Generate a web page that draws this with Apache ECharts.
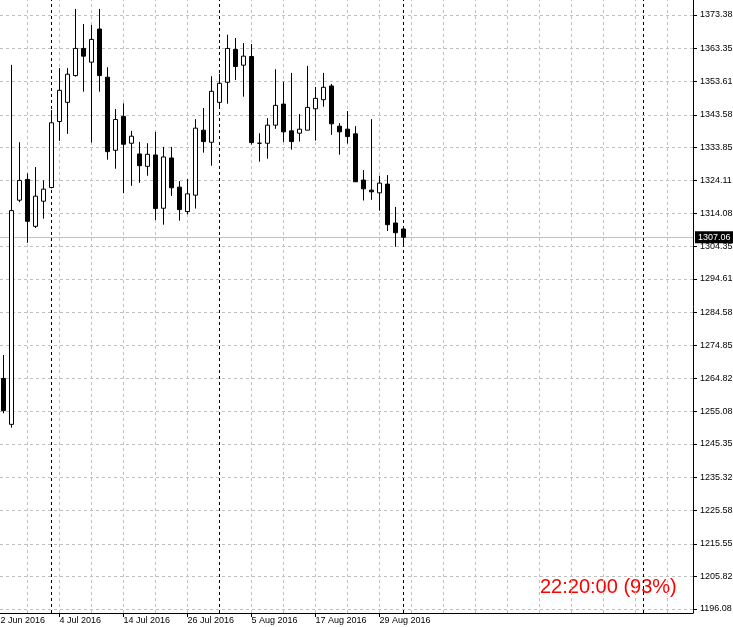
<!DOCTYPE html>
<html><head><meta charset="utf-8">
<script src="https://cdn.jsdelivr.net/npm/echarts@6/dist/echarts.min.js"></script>
<style>html,body{margin:0;padding:0;background:#fff}#c{width:733px;height:627px}</style>
</head><body><div id="c"></div>
<script>
const dates = ['2016-06-23','2016-06-24','2016-06-27','2016-06-28','2016-06-29','2016-06-30','2016-07-01',
  '2016-07-04','2016-07-05','2016-07-06','2016-07-07','2016-07-08','2016-07-11','2016-07-12','2016-07-13','2016-07-14','2016-07-15',
  '2016-07-18','2016-07-19','2016-07-20','2016-07-21','2016-07-22','2016-07-25','2016-07-26','2016-07-27','2016-07-28','2016-07-29',
  '2016-08-01','2016-08-02','2016-08-03','2016-08-04','2016-08-05','2016-08-08','2016-08-09','2016-08-10','2016-08-11','2016-08-12',
  '2016-08-15','2016-08-16','2016-08-17','2016-08-18','2016-08-19','2016-08-22','2016-08-23','2016-08-24','2016-08-25','2016-08-26',
  '2016-08-29','2016-08-30','2016-08-31','2016-09-01'];
const open  = [1264.9,1251.2,1318.1,1324.3,1310.3,1317.8,1321.9,1341.6,1347.3,1355.3,1363.4,1359.3,1369.2,1354.8,1333.0,1343.1,1335.1,
  1331.9,1328.2,1331.6,1315.7,1330.7,1322.0,1314.7,1319.6,1339.0,1335.4,1347.3,1353.3,1363.1,1358.4,1361.0,1335.1,1335.1,1340.5,1346.8,
  1338.8,1338.1,1339.0,1345.4,1348.1,1352.2,1340.2,1339.3,1337.9,1324.1,1321.1,1320.3,1322.9,1311.3,1309.5];
const high  = [1271.9,1358.5,1335.4,1326.1,1328.0,1324.0,1345.0,1357.5,1357.5,1375.2,1370.7,1370.4,1375.2,1357.8,1345.3,1347.0,1338.8,
  1335.5,1335.1,1338.5,1334.0,1334.0,1323.8,1324.4,1342.3,1345.6,1355.1,1355.8,1367.5,1366.5,1365.0,1364.7,1338.1,1342.6,1357.2,1353.5,
  1356.1,1343.8,1358.2,1351.9,1356.1,1352.8,1341.1,1344.7,1340.2,1327.1,1342.3,1325.4,1325.6,1316.1,1309.5];
const low   = [1254.5,1250.2,1317.5,1305.4,1309.8,1312.6,1321.6,1335.8,1337.9,1355.0,1350.5,1335.3,1350.5,1330.2,1327.5,1320.2,1322.4,
  1323.3,1325.4,1312.2,1310.8,1319.4,1312.0,1313.9,1315.6,1332.3,1328.4,1346.0,1346.9,1354.0,1349.0,1334.7,1329.6,1330.5,1339.4,1335.5,
  1333.2,1335.6,1339.0,1335.9,1346.0,1337.6,1331.7,1335.0,1323.6,1318.0,1318.2,1315.0,1308.9,1304.2,1304.7];
const close = [1255.3,1315.0,1324.0,1311.8,1319.3,1321.4,1341.2,1350.9,1355.7,1363.4,1361.1,1366.1,1355.3,1332.6,1342.2,1334.8,1337.2,
  1328.4,1331.8,1315.6,1331.0,1321.8,1315.3,1320.0,1339.6,1335.6,1350.6,1353.0,1363.4,1358.0,1361.1,1335.3,1335.1,1340.5,1346.4,1338.5,
  1335.6,1339.3,1345.8,1348.5,1351.8,1340.9,1338.5,1337.1,1323.6,1321.5,1320.6,1323.2,1310.8,1308.4,1307.06];

const yTicks = [1373.38,1363.35,1353.61,1343.58,1333.85,1324.11,1314.08,1304.35,1294.61,1284.58,
  1274.85,1264.82,1255.08,1245.35,1235.32,1225.58,1215.55,1205.82,1196.08];
const xTickIdx = [-1,7,15,23,31,39,47];
const xTickLabels = ['22 Jun 2016','4 Jul 2016','14 Jul 2016','26 Jul 2016','5 Aug 2016','17 Aug 2016','29 Aug 2016'];
const gridIdx = [3,7,11,15,19,23,27,31,35,39,43,47,51,55,59,63,67,71,75,79,83];
const periodIdx = [6,27,50,80];
const lastPrice = 1307.06;
const timerText = '22:20:00 (93%)';

const FONT = '"Liberation Sans", Arial, sans-serif';
const xMin = -0.4375, xMax = 86.1875;
const yMin = 1194.887, yMax = 1377.857;

const candles = dates.map((d, i) => [i, open[i], close[i], low[i], high[i]]);
const gridStyle = {color: '#c0c0c0', type: [3, 3], width: 1};
const markData = []
  .concat(yTicks.map(v => ({yAxis: v, lineStyle: gridStyle})))
  .concat(gridIdx.map(v => ({xAxis: v, lineStyle: gridStyle})))
  .concat(periodIdx.map(v => ({xAxis: v, lineStyle: {color: '#000', type: [3, 3], width: 1}})))
  .concat([{yAxis: lastPrice, lineStyle: {color: '#c0c0c0', type: 'solid', width: 1},
    label: {show: true, position: 'end', formatter: lastPrice.toFixed(2), color: '#fff', backgroundColor: '#000',
      padding: [2, 3, 1, 3], fontSize: 9, fontFamily: FONT, distance: 2}}]);

const chart = echarts.init(document.getElementById('c'), null, {renderer: 'canvas'});
chart.setOption({
  animation: false,
  backgroundColor: '#fff',
  grid: {left: 0, right: 40, top: 0, bottom: 14, containLabel: false, outerBoundsMode: 'none'},
  xAxis: {
    type: 'value', min: xMin, max: xMax,
    axisLine: {show: true, onZero: false, lineStyle: {color: '#000', width: 1}},
    axisTick: {show: true, customValues: xTickIdx, length: 4, lineStyle: {color: '#000'}},
    axisLabel: {customValues: xTickIdx, formatter: v => xTickLabels[xTickIdx.indexOf(v)], align: 'left',
      margin: 3, color: '#000', fontSize: 9, fontFamily: FONT},
    splitLine: {show: false}
  },
  yAxis: {
    type: 'value', position: 'right', min: yMin, max: yMax, scale: true,
    axisLine: {show: true, onZero: false, lineStyle: {color: '#000', width: 1}},
    axisTick: {show: true, customValues: yTicks, length: 4, lineStyle: {color: '#000'}},
    axisLabel: {customValues: yTicks, formatter: v => v.toFixed(2), margin: 7, color: '#000', fontSize: 9, fontFamily: FONT},
    splitLine: {show: false}
  },
  series: [
    {type: 'line', data: [], silent: true,
      markLine: {silent: true, symbol: ['none', 'none'], animation: false, label: {show: false}, data: markData}},
    {type: 'candlestick', z: 10, barWidth: 4, data: candles,
      itemStyle: {color: '#fff', color0: '#000', borderColor: '#000', borderColor0: '#000', borderColorDoji: '#000', borderWidth: 1}}
  ]
});
const px0 = chart.convertToPixel({xAxisIndex: 0}, xTickIdx[0]);
chart.setOption({graphic: [
  {type: 'text', left: 540, top: 577, style: {text: timerText, fill: '#ff0000', font: '20px ' + FONT}},
  {type: 'text', x: px0, y: 616, style: {text: xTickLabels[0], fill: '#000', font: '9px ' + FONT, textAlign: 'left', textVerticalAlign: 'top'}}
]});
</script></body></html>
